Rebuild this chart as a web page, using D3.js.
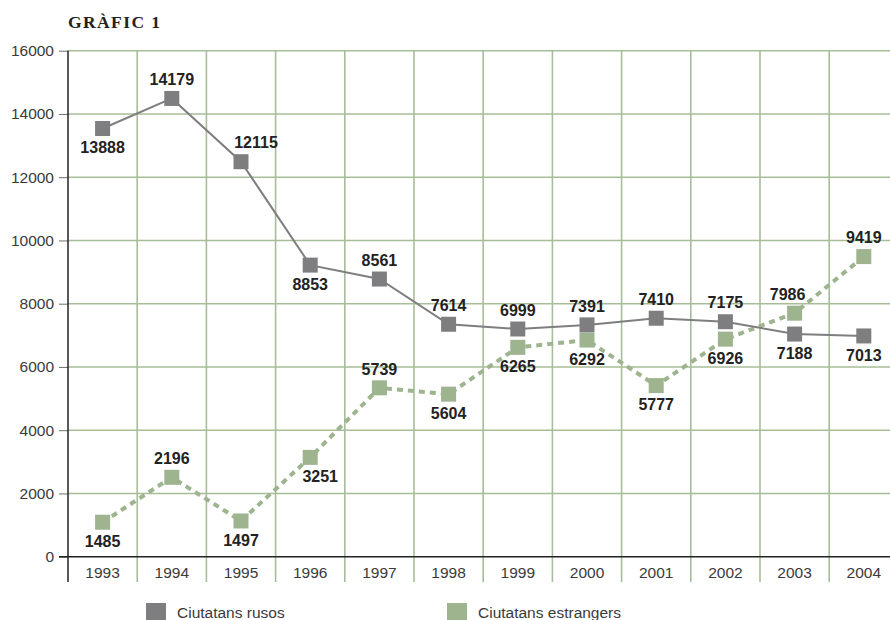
<!DOCTYPE html>
<html>
<head>
<meta charset="utf-8">
<script src="https://cdn.jsdelivr.net/npm/d3@7/dist/d3.min.js"></script>
<style>
  html, body { margin: 0; padding: 0; background: #fff; }
  svg { display: block; }
</style>
</head>
<body>
<svg id="chart" width="890" height="620"></svg>
<script>
// values as plotted in the picture (markers), and the printed labels
const years = ['1993', '1994', '1995', '1996', '1997', '1998', '1999', '2000', '2001', '2002', '2003', '2004'];
const rusosValues = [13540, 14490, 12490, 9220, 8780, 7350, 7200, 7330, 7540, 7430, 7040, 6980];
const rusosLabels = ['13888', '14179', '12115', '8853', '8561', '7614', '6999', '7391', '7410', '7175', '7188', '7013'];
const estrangersValues = [1090, 2510, 1130, 3140, 5340, 5140, 6620, 6850, 5410, 6880, 7700, 9490];
const estrangersLabels = ['1485', '2196', '1497', '3251', '5739', '5604', '6265', '6292', '5777', '6926', '7986', '9419'];
const rusosSide = ['below', 'above', 'above', 'below', 'above', 'above', 'above', 'above', 'above', 'above', 'below', 'below'];
const estrangersSide = ['below', 'above', 'below', 'below', 'above', 'below', 'below', 'below', 'below', 'below', 'above', 'above'];
const yTicks = [0, 2000, 4000, 6000, 8000, 10000, 12000, 14000, 16000];
const seriesNames = ['Ciutatans rusos', 'Ciutatans estrangers'];

const grey = '#7e7e80';
const green = '#9db48f';
const gridColor = '#a7bd98';

const svg = d3.select('#chart');

const x = d3.scaleBand()
  .domain(years)
  .range([68, 898.4]);

const y = d3.scaleLinear()
  .domain([0, 16000])
  .range([556.7, 50.7]);

const cx = (d, i) => x(years[i]) + x.bandwidth() / 2;

// title
svg.append('text')
  .attr('x', 68)
  .attr('y', 28.3)
  .attr('font-family', '"Liberation Serif", serif')
  .attr('font-weight', 'bold')
  .attr('font-size', 17.5)
  .attr('letter-spacing', 1.4)
  .attr('fill', '#222')
  .text('GRÀFIC 1');

// horizontal grid
svg.append('g')
  .selectAll('line')
  .data(yTicks.filter((t) => t > 0))
  .enter()
  .append('line')
    .attr('x1', 68)
    .attr('x2', 890)
    .attr('y1', (d) => y(d))
    .attr('y2', (d) => y(d))
    .attr('stroke', gridColor)
    .attr('stroke-width', 1.6);

// vertical band separators (run down through the year labels)
svg.append('g')
  .selectAll('line')
  .data(years.slice(1))
  .enter()
  .append('line')
    .attr('x1', (d) => x(d))
    .attr('x2', (d) => x(d))
    .attr('y1', y(16000))
    .attr('y2', 582)
    .attr('stroke', gridColor)
    .attr('stroke-width', 1.6);

// y axis
const yAxis = svg.append('g')
  .attr('transform', 'translate(68, 0)')
  .call(d3.axisLeft(y).tickValues(yTicks).tickSize(9).tickPadding(5).tickFormat((d) => d));

yAxis.select('.domain').remove();
yAxis.selectAll('line').attr('stroke', '#6f6f6f');
yAxis.selectAll('text')
  .attr('font-family', '"Liberation Sans", Arial, sans-serif')
  .attr('font-size', 15.5)
  .attr('fill', '#3a3a3a');

// x axis labels
const xAxis = svg.append('g')
  .attr('transform', `translate(0, ${y(0)})`)
  .call(d3.axisBottom(x).tickSize(0).tickPadding(10));

xAxis.select('.domain').remove();
xAxis.selectAll('text')
  .attr('font-family', '"Liberation Sans", Arial, sans-serif')
  .attr('font-size', 15.5)
  .attr('fill', '#3a3a3a');

// axis lines
svg.append('line')
  .attr('x1', 59).attr('x2', 890)
  .attr('y1', y(0)).attr('y2', y(0))
  .attr('stroke', '#222')
  .attr('stroke-width', 1.5);

svg.append('line')
  .attr('x1', 68).attr('x2', 68)
  .attr('y1', y(16000)).attr('y2', 582)
  .attr('stroke', '#222')
  .attr('stroke-width', 1.5);

const line = d3.line()
  .x(cx)
  .y((d) => y(d));

const markerSize = 15;

function drawSeries(values, color, dashed) {
  const g = svg.append('g');

  g.append('path')
    .datum(values)
    .attr('d', line)
    .attr('fill', 'none')
    .attr('stroke', color)
    .attr('stroke-width', dashed ? 4 : 2)
    .attr('stroke-dasharray', dashed ? '6,5' : null);

  g.selectAll('rect')
    .data(values)
    .enter()
    .append('rect')
      .attr('x', (d, i) => cx(d, i) - markerSize / 2)
      .attr('y', (d) => y(d) - markerSize / 2)
      .attr('width', markerSize)
      .attr('height', markerSize)
      .attr('fill', color);
}

drawSeries(estrangersValues, green, true);
drawSeries(rusosValues, grey, false);

// a few labels are nudged sideways in the original
const nudge = { 'r1995': 15, 'e1996': 10, 'e2003': -7 };

function drawLabels(values, labels, sides, key) {
  svg.append('g')
    .selectAll('text')
    .data(values)
    .enter()
    .append('text')
      .attr('x', (d, i) => cx(d, i) + (nudge[key + years[i]] || 0))
      .attr('y', (d, i) => y(d) + (sides[i] === 'above' ? -19 : 19))
      .attr('dy', '0.36em')
      .attr('text-anchor', 'middle')
      .attr('font-family', '"Liberation Sans", Arial, sans-serif')
      .attr('font-weight', 'bold')
      .attr('font-size', 16)
      .attr('fill', '#222')
      .text((d, i) => labels[i]);
}

drawLabels(rusosValues, rusosLabels, rusosSide, 'r');
drawLabels(estrangersValues, estrangersLabels, estrangersSide, 'e');

// legend
const legendX = [146, 447];
const legendColors = [grey, green];

const legend = svg.append('g');

legend.selectAll('rect')
  .data(seriesNames)
  .enter()
  .append('rect')
    .attr('x', (d, i) => legendX[i])
    .attr('y', 603)
    .attr('width', 20)
    .attr('height', 17)
    .attr('fill', (d, i) => legendColors[i]);

legend.selectAll('text')
  .data(seriesNames)
  .enter()
  .append('text')
    .attr('x', (d, i) => legendX[i] + 31)
    .attr('y', 612)
    .attr('dy', '0.36em')
    .attr('font-family', '"Liberation Sans", Arial, sans-serif')
    .attr('font-size', 15.5)
    .attr('fill', '#3a3a3a')
    .text((d) => d);
</script>
</body>
</html>
